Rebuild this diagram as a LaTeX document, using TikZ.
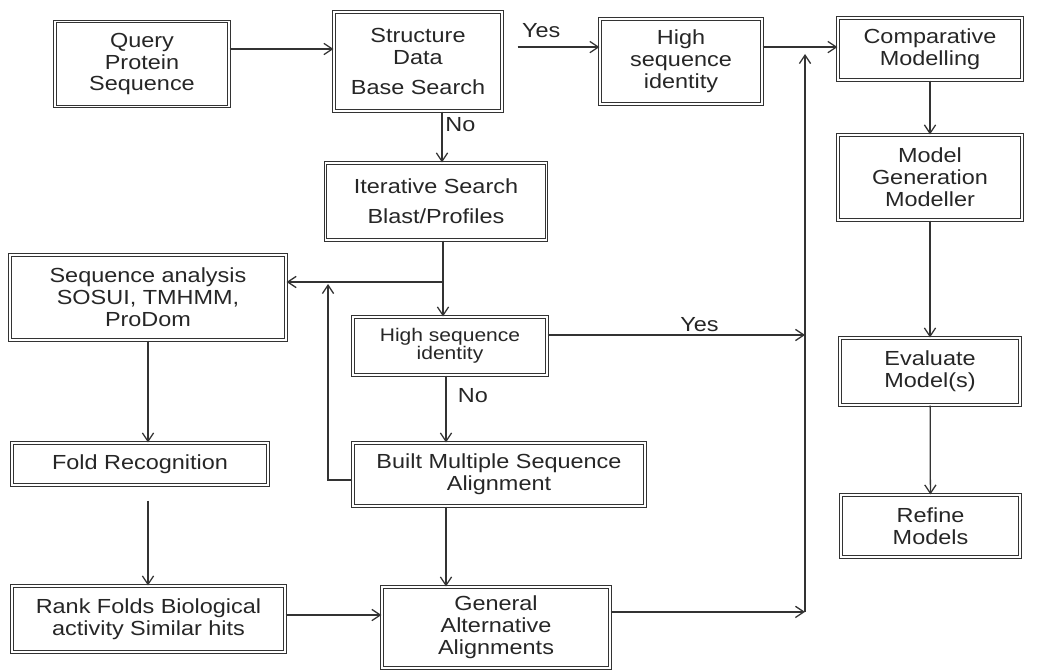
\documentclass[tikz,border=0pt]{standalone}
\usepackage{fontspec}
\setmainfont[FakeStretch=1.15]{Liberation Sans}
\usetikzlibrary{arrows.meta, positioning}

\begin{document}
\begin{tikzpicture}[x=0.025cm, y=-0.025cm,
    box/.style={rectangle, draw=black!80, double, double distance=1.1pt,
                line width=0.8pt, inner sep=0pt, align=center, text=black!85,
                font=\fontsize{14.5}{15.6}\selectfont},
    arrow/.style={-{Straight Barb[length=6pt, width=8pt]}, line width=0.9pt, draw=black!80},
    lbl/.style={font=\fontsize{14.5}{15.6}\selectfont, text=black!85, inner sep=2pt}]

\useasboundingbox (0,0) rectangle (1043,670);

\node[box, minimum width=4.35cm, minimum height=2.125cm] (query) at (142,64) {Query\\Protein\\Sequence};
\node[box, minimum width=4.2cm, minimum height=2.475cm] (struct) at (418,61.5) {Structure\\Data\\[6pt]Base Search};
\node[box, minimum width=4.05cm, minimum height=2.125cm] (hsitop) at (681,61.5) {High\\sequence\\identity};
\node[box, minimum width=4.6cm, minimum height=1.55cm] (comp) at (930,49) {Comparative\\Modelling};
\node[box, minimum width=4.6cm, minimum height=2.125cm] (modgen) at (930,177.5) {Model\\Generation\\Modeller};
\node[box, minimum width=4.5cm, minimum height=1.675cm] (eval) at (930,371.5) {Evaluate\\Model(s)};
\node[box, minimum width=4.475cm, minimum height=1.55cm] (refine) at (930.5,526) {Refine\\Models};
\node[box, minimum width=5.525cm, minimum height=1.925cm] (iter) at (436,201.5) {Iterative Search\\[6pt]Blast/Profiles};
\node[box, minimum width=6.9cm, minimum height=2.125cm] (seqan) at (148,297.5) {Sequence analysis\\SOSUI, TMHMM,\\ProDom};
\node[box, minimum width=4.85cm, minimum height=1.45cm, font=\fontsize{13}{12.5}\selectfont] (hsimid) at (450,346) {High sequence\\identity};
\node[box, minimum width=6.4cm, minimum height=1.05cm] (fold) at (140,464) {Fold Recognition};
\node[box, minimum width=7.3cm, minimum height=1.575cm] (msa) at (499,474.5) {Built Multiple Sequence\\Alignment};
\node[box, minimum width=6.825cm, minimum height=1.65cm] (rank) at (148.5,619) {Rank Folds Biological\\activity Similar hits};
\node[box, minimum width=5.7cm, minimum height=2.025cm] (general) at (496,627.5) {General\\Alternative\\Alignments};

% junctions
\coordinate (vtop) at (805,54);
\coordinate (br) at (443,282);
\coordinate (lp) at (328,284);

% top row
\draw[arrow] ([yshift=0.375cm]query.east) -- ([yshift=0.375cm]query.east -| struct.west);
\draw[arrow, shorten <=0.375cm] ([yshift=0.36cm]struct.east) -- node[lbl, above, pos=0.4, yshift=4pt] {Yes} ([yshift=0.36cm]hsitop.west);
\draw[arrow] ([yshift=0.36cm]hsitop.east) -- ([yshift=0.36cm]hsitop.east -| comp.west);

% middle column
\draw[arrow] ([xshift=0.6cm]struct.south) -- node[lbl, right, pos=0.25] {No} ([xshift=0.6cm]struct.south |- iter.north);
\draw[arrow] ([xshift=0.175cm]iter.south) -- ([xshift=0.175cm]iter.south |- hsimid.north);
\draw[arrow] (br) -- (br -| seqan.east);
\draw[arrow] ([xshift=-0.1cm]hsimid.south) -- node[lbl, right, pos=0.3, xshift=6pt] {No} ([xshift=-0.1cm]hsimid.south |- msa.north);
\draw[arrow] ([yshift=0.275cm]hsimid.east) -- node[lbl, above, pos=0.59] {Yes} ([yshift=0.275cm]hsimid.east -| vtop);
\draw[arrow] ([yshift=-0.14cm]msa.west) -| (lp);
\draw[arrow] ([xshift=-1.325cm]msa.south) -- ([xshift=-1.325cm]msa.south |- general.north);

% left column
\draw[arrow] (seqan.south) -- (seqan.south |- fold.north);
\draw[arrow, shorten <=0.375cm] (fold.south -| seqan.south) -- (seqan.south |- rank.north);
\draw[arrow] ([yshift=0.1cm]rank.east) -- ([yshift=0.1cm]rank.east -| general.west);

% back to comparative modelling
\draw[arrow] ([yshift=0.39cm]general.east) -- ([yshift=0.39cm]general.east -| vtop);
\draw[arrow] ([yshift=0.39cm]general.east -| vtop) -- (vtop);

% right column
\draw[arrow] (comp) -- (modgen);
\draw[arrow] (modgen) -- (eval);
\draw[arrow] (eval) -- (refine);
\end{tikzpicture}
\end{document}
